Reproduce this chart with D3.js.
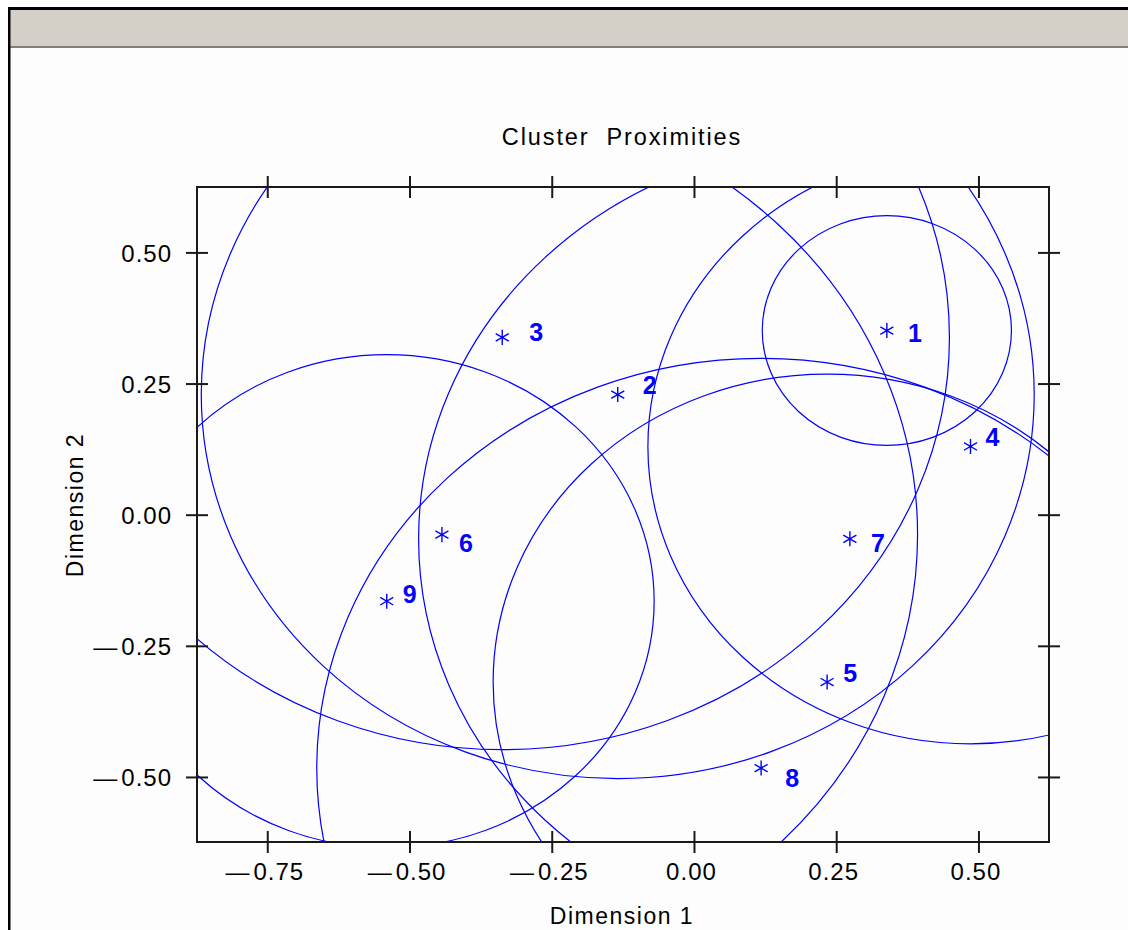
<!DOCTYPE html>
<html>
<head>
<meta charset="utf-8">
<title>Cluster Proximities</title>
<script src="https://cdn.jsdelivr.net/npm/d3@7"></script>
<style>
  html, body { margin: 0; padding: 0; background: #ffffff; }
  svg { display: block; }
  text { font-family: 'Liberation Sans', Arial, sans-serif; }
</style>
</head>
<body>
<div id="chart"></div>
<script>
'use strict';

// cluster data
const clusterIds = ['1', '2', '3', '4', '5', '6', '7', '8', '9'];
const dim1 = [0.339, -0.134, -0.337, 0.486, 0.234, -0.443, 0.274, 0.118, -0.540];
const dim2 = [0.351, 0.229, 0.338, 0.130, -0.319, -0.038, -0.046, -0.483, -0.165];
const radius = [0.219, 0.732, 0.786, 0.567, 0.587, 0.836, 0.758, 0.781, 0.470];

const xTicks = [-0.75, -0.5, -0.25, 0, 0.25, 0.5];
const yTicks = [-0.5, -0.25, 0, 0.25, 0.5];

/** page and plot sizes */
const pageW = 1128;
const pageH = 930;
const plot = { left: 197, top: 187, width: 852, height: 655 };
const blue = '#0000ff';

// label nudges (px) so the numbers sit where SAS put them
const labelNudge = [[28, 2], [32, -10], [34, -5], [22, -9], [23, -9], [24, 8], [28, 4], [31, 10], [23, -7]];

const svg = d3.select('#chart')
  .append('svg')
    .attr('width', pageW)
    .attr('height', pageH);

// window frame
svg.append('rect')
  .attr('x', 0).attr('y', 0)
  .attr('width', pageW).attr('height', pageH)
  .attr('fill', '#ffffff');
svg.append('rect')
  .attr('x', 10).attr('y', 10)
  .attr('width', pageW - 10).attr('height', pageH - 10)
  .attr('fill', '#fdfdfd');
svg.append('rect')
  .attr('x', 10).attr('y', 10)
  .attr('width', pageW - 10).attr('height', 36)
  .attr('fill', '#d4d0c8');
svg.append('rect')
  .attr('x', 10).attr('y', 46)
  .attr('width', pageW - 10).attr('height', 2)
  .attr('fill', '#808080');
svg.append('rect')
  .attr('x', 8).attr('y', 7)
  .attr('width', pageW - 8).attr('height', 3)
  .attr('fill', '#000000');
svg.append('rect')
  .attr('x', 8).attr('y', 7)
  .attr('width', 2.5).attr('height', pageH - 7)
  .attr('fill', '#000000');

// title
svg.append('text')
  .attr('x', plot.left + plot.width / 2 - 1)
  .attr('y', 145)
  .attr('text-anchor', 'middle')
  .style('font-size', '23.5px')
  .style('letter-spacing', '1.9px')
  .style('white-space', 'pre')
  .text('Cluster  Proximities');

const x = d3.scaleLinear()
  .domain([-0.8735, 0.624])
  .range([0, plot.width]);

const y = d3.scaleLinear()
  .domain([-0.624, 0.6247])
  .range([plot.height, 0]);

/** tick label with the wide SAS minus sign */
const fmt = function (d) {
  const s = d3.format('.2f')(Math.abs(d));
  return d < 0 ? '\u2014\u200a' + s : s;
};

const g = svg.append('g')
  .attr('transform', `translate(${plot.left},${plot.top})`);

g.append('clipPath')
  .attr('id', 'plotClip')
  .append('rect')
    .attr('width', plot.width)
    .attr('height', plot.height);

// proximity circles (circles in data units, so ellipses on screen)
const circles = clusterIds.map((id, i) => ({ id: id, cx: dim1[i], cy: dim2[i], r: radius[i] }));

g.append('g')
  .attr('clip-path', 'url(#plotClip)')
  .selectAll('ellipse')
  .data(circles)
  .join('ellipse')
    .attr('cx', d => x(d.cx))
    .attr('cy', d => y(d.cy))
    .attr('rx', d => x(d.r) - x(0))
    .attr('ry', d => y(0) - y(d.r))
    .attr('fill', 'none')
    .attr('stroke', blue)
    .attr('stroke-width', 1.2);

// cluster markers
const star = d3.symbol().type(d3.symbolAsterisk).size(160);
g.selectAll('path.star')
  .data(circles)
  .join('path')
    .attr('class', 'star')
    .attr('transform', d => `translate(${x(d.cx)},${y(d.cy)})`)
    .attr('d', star)
    .attr('fill', 'none')
    .attr('stroke', blue)
    .attr('stroke-width', 1.4);

g.selectAll('text.lab')
  .data(circles)
  .join('text')
    .attr('class', 'lab')
    .attr('x', (d, i) => x(d.cx) + labelNudge[i][0])
    .attr('y', (d, i) => y(d.cy) + labelNudge[i][1])
    .attr('dy', '0.36em')
    .attr('text-anchor', 'middle')
    .attr('fill', blue)
    .style('font-size', '25px')
    .style('font-weight', 'bold')
    .text(d => d.id);

// frame
g.append('rect')
  .attr('width', plot.width)
  .attr('height', plot.height)
  .attr('fill', 'none')
  .attr('stroke', '#1a1a1a')
  .attr('stroke-width', 2);

/** ticks cross the frame, 11px each way */
function styleAxis (sel, horizontal, labels) {
  sel.select('.domain').remove();
  sel.selectAll('.tick line')
    .attr('stroke', '#1a1a1a')
    .attr('stroke-width', 2)
    .attr(horizontal ? 'y1' : 'x1', -11)
    .attr(horizontal ? 'y2' : 'x2', 11);
  if (labels) {
    sel.selectAll('.tick text')
      .attr('fill', '#000')
      .style('font-size', '24px')
      .style('letter-spacing', '1px');
  } else {
    sel.selectAll('.tick text').remove();
  }
}

const xBottom = g.append('g')
  .attr('transform', `translate(0,${plot.height})`)
  .call(d3.axisBottom(x).tickValues(xTicks).tickFormat(fmt).tickPadding(0));
styleAxis(xBottom, true, true);
xBottom.selectAll('.tick text').attr('y', 38).attr('dy', 0).attr('dx', '-3');

const xTop = g.append('g')
  .call(d3.axisTop(x).tickValues(xTicks));
styleAxis(xTop, true, false);

const yLeft = g.append('g')
  .call(d3.axisLeft(y).tickValues(yTicks).tickFormat(fmt));
styleAxis(yLeft, false, true);
yLeft.selectAll('.tick text').attr('x', -25).attr('dy', '0.36em');

const yRight = g.append('g')
  .attr('transform', `translate(${plot.width},0)`)
  .call(d3.axisRight(y).tickValues(yTicks));
styleAxis(yRight, false, false);

// axis titles
svg.append('text')
  .attr('x', plot.left + plot.width / 2 - 1)
  .attr('y', 924)
  .attr('text-anchor', 'middle')
  .style('font-size', '23px')
  .style('letter-spacing', '1.5px')
  .text('Dimension 1');

svg.append('text')
  .attr('transform', 'translate(83,505) rotate(-90)')
  .attr('text-anchor', 'middle')
  .style('font-size', '23px')
  .style('letter-spacing', '1.5px')
  .text('Dimension 2');
</script>
</body>
</html>
